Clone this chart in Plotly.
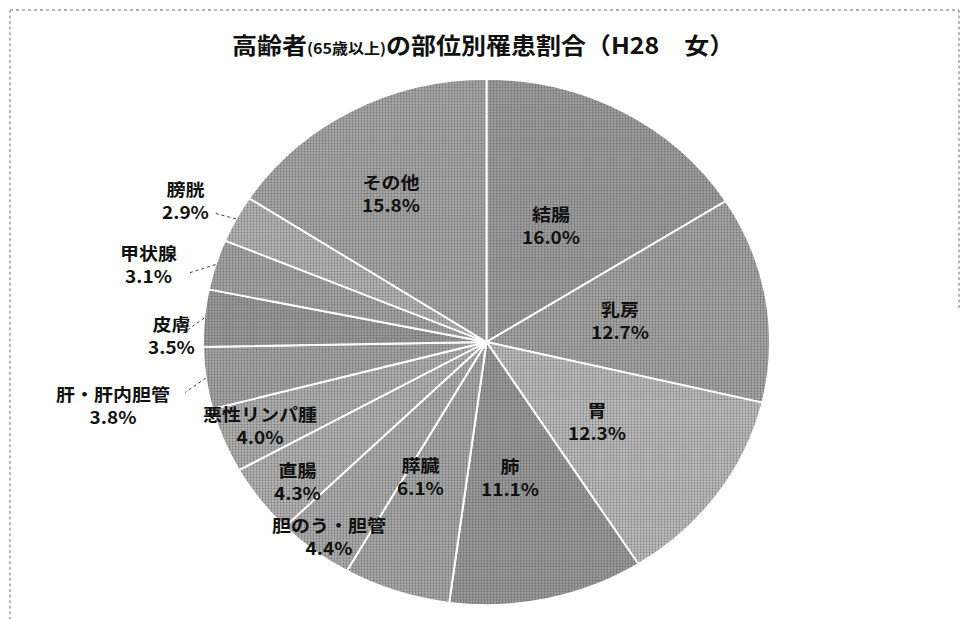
import math
import plotly.graph_objects as go

# ---- data ----
labels = ["結腸", "乳房", "胃", "肺", "膵臓", "胆のう・胆管", "直腸", "悪性リンパ腫",
          "肝・肝内胆管", "皮膚", "甲状腺", "膀胱", "その他"]
values = [16.0, 12.7, 12.3, 11.1, 6.1, 4.4, 4.3, 4.0, 3.8, 3.5, 3.1, 2.9, 15.8]
title_main = "高齢者"
title_small = "(65歳以上)"
title_rest = "の部位別罹患割合（H28　女）"

# ---- styles / label placement (not data) ----
fill_colors = ["#a0a0a0", "#a8a8a8", "#c0c0c0", "#9c9c9c", "#ababab", "#b0b0b0", "#b6b6b6",
               "#b3b3b3", "#a8a8a8", "#9c9c9c", "#a8a8a8", "#b8b8b8", "#aaaaaa"]
label_r = [0.50, 0.48, 0.49, 0.52, 0.56, 0.92, 0.85, 0.86, 1.34, 1.11, 1.23, 1.19, 0.66]
label_dang = [-1.7, -0.5, 2.1, 3.2, 6.2, -0.4, -1.4, 0.5, -2.3, -3.8, -3.0, -0.9, -2.3]
outside = [False] * 8 + [True] * 4 + [False]

# the original picture is squeezed vertically: render taller, then scale the page
W, H_VIEW = 961, 619
SY = 0.92804
H = round(H_VIEW / SY)  # 667

cx_px, cy_px, R_px = 486.5, 368.5, 283.5
dom_x = [(cx_px - R_px) / W, (cx_px + R_px) / W]
dom_y = [(H - cy_px - R_px) / H, (H - cy_px + R_px) / H]
cx = (dom_x[0] + dom_x[1]) / 2 * W
cy = H - (dom_y[0] + dom_y[1]) / 2 * H
R = min((dom_x[1] - dom_x[0]) * W, (dom_y[1] - dom_y[0]) * H) / 2


def to_paper(ang_deg, r_px):
    a = math.radians(ang_deg)
    px = cx + r_px * math.sin(a)
    py = cy - r_px * math.cos(a)
    return px / W, 1 - py / H


fig = go.Figure()
fig.add_trace(go.Pie(
    labels=labels, values=values, sort=False, direction="clockwise", rotation=0,
    domain=dict(x=dom_x, y=dom_y),
    marker=dict(colors=fill_colors, line=dict(color="white", width=2),
                pattern=dict(shape=".", size=3, solidity=0.35, fgcolor="#3a3a3a",
                             fillmode="overlay")),
    textinfo="none", hoverinfo="label+percent", showlegend=False,
))

total = sum(values)
cum = 0.0
annotations = []
shapes = []
for i, (lab, v) in enumerate(zip(labels, values)):
    mid = (cum + v / 2) / total * 360
    cum += v
    ang = mid + label_dang[i]
    x, y = to_paper(ang, label_r[i] * R)
    annotations.append(dict(
        x=x, y=y, xref="paper", yref="paper", showarrow=False,
        text=f"<b>{lab}</b><br><b>{v:.1f}%</b>", align="center",
        font=dict(size=19, color="#111", family="Noto Sans CJK JP"),
        xanchor="center", yanchor="middle",
    ))
    if outside[i]:
        x0, y0 = to_paper(mid, 1.0 * R)
        x1, y1 = to_paper(ang, 1.08 * R)
        shapes.append(dict(type="line", xref="paper", yref="paper",
                           x0=x0, y0=y0, x1=x1, y1=y1,
                           line=dict(color="#333", width=1, dash="dot")))

annotations.append(dict(
    x=483 / W, y=1 - (44 / SY) / H, xref="paper", yref="paper", showarrow=False,
    text=(f"<b>{title_main}</b><span style='font-size:16px'><b>{title_small}</b></span>"
          f"<b>{title_rest}</b>"),
    font=dict(size=25, color="#111", family="Noto Sans CJK JP"),
    xanchor="center", yanchor="middle",
))

# dotted outer frame (view coords)
frame = [(10, 10, 959, 10), (10, 10, 10, 619), (959, 10, 959, 310)]
for (a, b, c, d) in frame:
    shapes.append(dict(type="line", xref="paper", yref="paper",
                       x0=a / W, y0=1 - (b / SY) / H, x1=c / W, y1=1 - (d / SY) / H,
                       line=dict(color="#666", width=1, dash="dot")))

fig.update_layout(
    width=W, height=H, margin=dict(l=0, r=0, t=0, b=0),
    paper_bgcolor="white", plot_bgcolor="white",
    annotations=annotations, shapes=shapes,
    font=dict(family="Noto Sans CJK JP"),
)
post = (
    "document.documentElement.style.overflow='hidden';"
    "document.body.style.margin='0';document.body.style.overflow='hidden';"
    "var d=document.getElementById('{plot_id}');"
    f"d.style.transformOrigin='0 0';d.style.transform='scaleY({SY})';"
)
fig.write_html("out.html", config={"displayModeBar": False}, post_script=post)
